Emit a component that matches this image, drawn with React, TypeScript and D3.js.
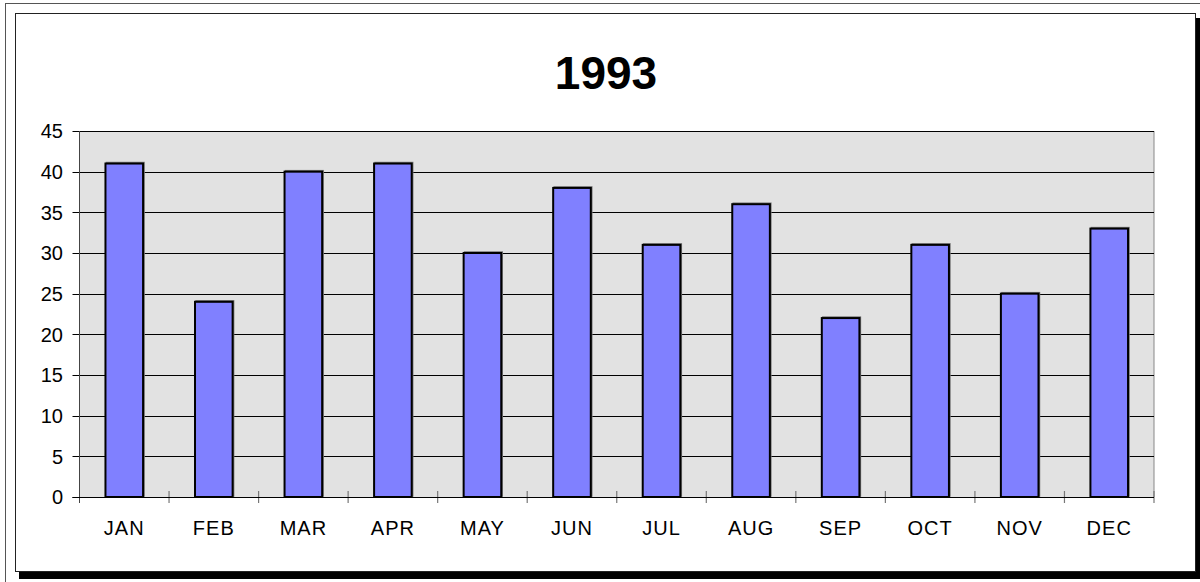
import * as d3 from 'd3';
import React, {useRef, useEffect} from 'react';

const months = ["JAN", "FEB", "MAR", "APR", "MAY", "JUN", "JUL", "AUG", "SEP", "OCT", "NOV", "DEC"];
const values = [41, 24, 40, 41, 30, 38, 31, 36, 22, 31, 25, 33];
const yTicks = [0, 5, 10, 15, 20, 25, 30, 35, 40, 45];
const title = "1993";

function App() {
    const ref = useRef<SVGSVGElement>(null);

    const W = 1200, H = 582;
    const plot = {left: 79.5, right: 1154, top: 131, bottom: 497};

    useEffect(() => {
        const svg = d3.select(ref.current);
        svg.selectAll("*").remove();
        const font = "'Liberation Sans', Arial, sans-serif";

        // outer frame + chart box with shadow
        svg.append("rect").attr("x", 5.5).attr("y", 3.5).attr("width", W).attr("height", H)
            .attr("fill", "white").attr("stroke", "#555").attr("stroke-width", 1);
        svg.append("rect").attr("x", 19).attr("y", 18).attr("width", 1181).attr("height", 561)
            .attr("fill", "black");
        svg.append("rect").attr("x", 15.5).attr("y", 13.5).attr("width", 1180).attr("height", 558)
            .attr("fill", "white").attr("stroke", "#222").attr("stroke-width", 1);

        // title
        svg.append("text").attr("x", 606).attr("y", 89)
            .attr("text-anchor", "middle")
            .style("font-family", font).style("font-weight", "bold").style("font-size", "46px")
            .text(title);

        const x = d3.scaleBand()
            .domain(months)
            .range([plot.left, plot.right])
            .paddingInner(0.58)
            .paddingOuter(0.29);

        const y = d3.scaleLinear()
            .domain([0, 45])
            .range([plot.bottom, plot.top]);

        // plot background
        svg.append("rect")
            .attr("x", plot.left).attr("y", plot.top)
            .attr("width", plot.right - plot.left).attr("height", plot.bottom - plot.top)
            .attr("fill", "#e2e2e2")
            .attr("stroke", "none");
        svg.append("line")
            .attr("x1", plot.right).attr("x2", plot.right)
            .attr("y1", plot.top).attr("y2", plot.bottom)
            .attr("stroke", "#888").attr("stroke-width", 1);

        // gridlines
        svg.append("g").selectAll("line")
            .data(yTicks)
            .enter()
            .append("line")
            .attr("x1", plot.left - 7).attr("x2", plot.right)
            .attr("y1", d => Math.round(y(d)) + 0.5).attr("y2", d => Math.round(y(d)) + 0.5)
            .attr("stroke", "black").attr("stroke-width", 1);

        // y axis line
        svg.append("line")
            .attr("x1", plot.left).attr("x2", plot.left)
            .attr("y1", plot.top).attr("y2", plot.bottom + 6)
            .attr("stroke", "#444").attr("stroke-width", 1);

        // y labels
        svg.append("g").selectAll("text")
            .data(yTicks)
            .enter()
            .append("text")
            .attr("x", 63)
            .attr("y", d => y(d))
            .attr("dy", "0.36em")
            .attr("text-anchor", "end")
            .style("font-family", font).style("font-size", "20px")
            .text(d => d);

        // x category ticks
        const bounds = months.map((m, i) => plot.left + i * x.step()).concat([plot.right]);
        svg.append("g").selectAll("line")
            .data(bounds.slice(1))
            .enter()
            .append("line")
            .attr("x1", d => d).attr("x2", d => d)
            .attr("y1", plot.bottom - 6).attr("y2", plot.bottom + 6)
            .attr("stroke", "#777").attr("stroke-width", 1.2);

        // bars shadow + bars
        svg.append("g").selectAll("rect")
            .data(values)
            .enter()
            .append("rect")
            .attr("x", (d, i) => (x(months[i]) as number) + 1)
            .attr("y", d => y(d) - 1)
            .attr("width", x.bandwidth())
            .attr("height", d => plot.bottom - y(d))
            .attr("fill", "none")
            .attr("stroke", "#777").attr("stroke-width", 1.5);
        svg.append("g").selectAll("rect")
            .data(values)
            .enter()
            .append("rect")
            .attr("x", (d, i) => x(months[i]) as number)
            .attr("y", d => y(d))
            .attr("width", x.bandwidth())
            .attr("height", d => plot.bottom - y(d))
            .attr("fill", "#8080ff")
            .attr("stroke", "black").attr("stroke-width", 2);

        // x axis line
        svg.append("line")
            .attr("x1", plot.left - 7).attr("x2", plot.right)
            .attr("y1", plot.bottom + 0.5).attr("y2", plot.bottom + 0.5)
            .attr("stroke", "black").attr("stroke-width", 1);

        // x labels
        svg.append("g").selectAll("text")
            .data(months)
            .enter()
            .append("text")
            .attr("x", d => (x(d) as number) + x.bandwidth() / 2)
            .attr("y", 535)
            .attr("text-anchor", "middle")
            .style("font-family", font).style("font-size", "20px")
            .style("letter-spacing", "1px")
            .text(d => d);
    }, []);

    return (
        <div className="chart">
            <svg ref={ref} width={W} height={H}
                style={{position: "absolute", left: 0, top: 0, display: "block"}}>
            </svg>
        </div>
    );
}

export default App;
